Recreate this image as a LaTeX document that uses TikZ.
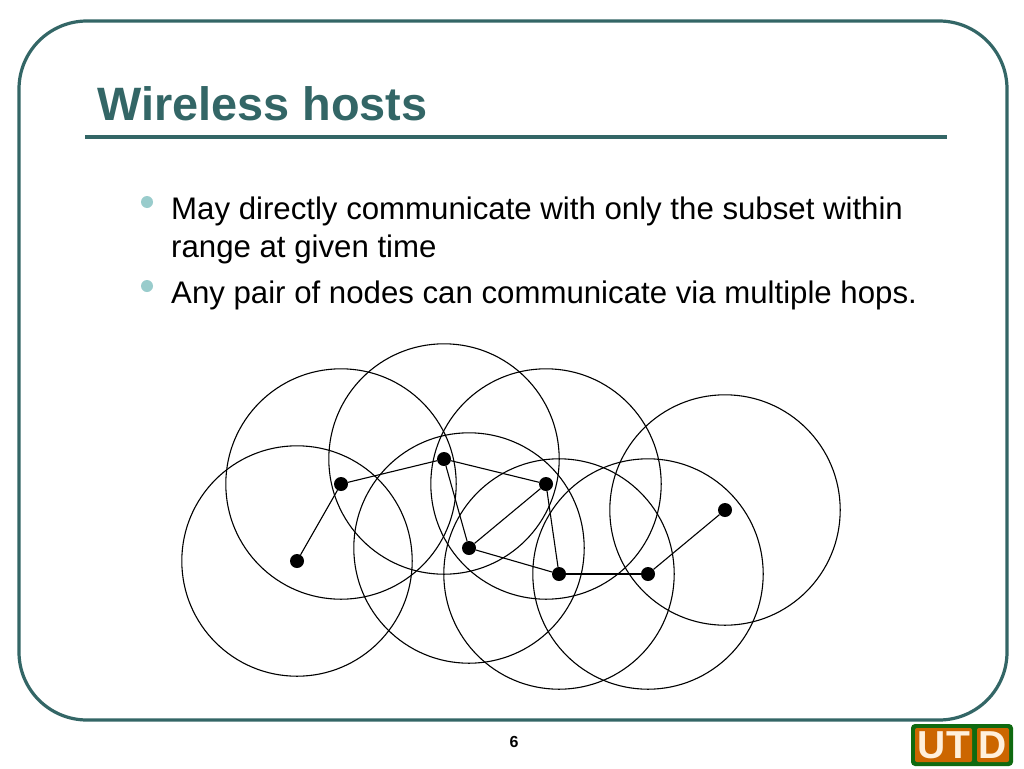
\documentclass[tikz,border=0pt]{standalone}
\usepackage{fontspec}
\setmainfont{Liberation Sans}
\definecolor{slide}{HTML}{336666}
\definecolor{bul}{HTML}{99CCCC}
\definecolor{utdg}{HTML}{0F6A10}
\definecolor{utdo}{HTML}{CC6600}
\definecolor{utdt}{HTML}{FFF0DC}
\tikzset{
  hostdot/.style={circle,fill=black,inner sep=0pt,minimum size=14pt},
  rangecircle/.style={draw=black,line width=1.1pt},
  hopline/.style={draw=black,line width=1.1pt},
  bodytext/.style={anchor=base west,inner sep=0pt,font=\fontsize{31.2pt}{36pt}\selectfont,text=black},
  bulletdot/.style={circle,fill=bul,inner sep=0pt,minimum size=12pt},
  logotext/.style={inner sep=0pt,text=utdt,font=\fontsize{39pt}{40pt}\selectfont\bfseries}
}
\begin{document}
\begin{tikzpicture}[x=1pt,y=-1pt]
\useasboundingbox (0,0) rectangle (1024,768);
\fill[white] (0,0) rectangle (1024,768);
\draw[slide,line width=3.2pt,rounded corners=68pt] (19,21) rectangle (1007,720);
\node[anchor=base west,inner sep=0pt,text=slide,font=\fontsize{46.85pt}{50pt}\selectfont\bfseries] (title) at (97,120) {Wireless hosts};
\fill[slide] (85,135) rectangle (947,139);
\node[bulletdot] (b1) at (147,202) {};
\node[bodytext] (t1) at (171,219) {May directly communicate with only the subset within};
\node[bodytext] (t2) at (171,257) {range at given time};
\node[bulletdot] (b2) at (147,286) {};
\node[bodytext] (t3) at (171,303) {Any pair of nodes can communicate via multiple hops.};
\foreach \n/\x/\y in {a/297/561,b/341/484,c/444/459,d/546/484,e/469/548,f/559/574,g/648/574,h/725/510}{
  \draw[rangecircle] (\x,\y) circle (115.2pt);
  \node[hostdot] (\n) at (\x,\y) {};
}
\foreach \p/\q in {a/b,b/c,c/d,c/e,d/e,d/f,e/f,f/g,g/h}{
  \draw[hopline] (\p) -- (\q);
}
\node[inner sep=0pt,font=\fontsize{16pt}{18pt}\selectfont\bfseries] (pg) at (514,742) {6};
\fill[utdg,rounded corners=4pt] (911,724) rectangle (1013,766);
\fill[utdo,rounded corners=2pt] (915,728) rectangle (972,762);
\fill[utdo,rounded corners=2pt] (977,728) rectangle (1009,762);
\node[logotext] (lu) at (932,745) {U};
\node[logotext] (lt) at (958,745) {T};
\node[logotext] (ld) at (993,745) {D};
\end{tikzpicture}
\end{document}
